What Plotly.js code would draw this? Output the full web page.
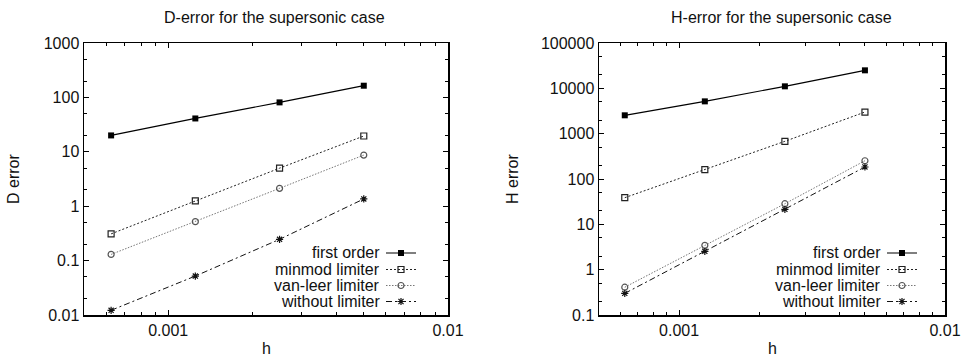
<!DOCTYPE html>
<html>
<head>
<meta charset="utf-8">
<script src="https://cdn.plot.ly/plotly-3.0.1.min.js"></script>
<style>
  html, body { margin: 0; padding: 0; background: #fff; }
  #chart { width: 965px; height: 360px; }
</style>
</head>
<body>
<div id="chart"></div>
<script>
// ---- data ----
const hVals = [0.000625, 0.00125, 0.0025, 0.005];
const seriesNames = ['first order', 'minmod limiter', 'van-leer limiter', 'without limiter'];

const dFirst   = [20, 41, 81, 164];
const dMinmod  = [0.31, 1.25, 5.0, 19.5];
const dVanleer = [0.13, 0.52, 2.13, 8.7];
const dWithout = [0.0122, 0.052, 0.246, 1.36];

const hFirst   = [2540, 5160, 11070, 24950];
const hMinmod  = [38.7, 161, 678, 3000];
const hVanleer = [0.41, 3.44, 28.5, 253];
const hWithout = [0.30, 2.54, 21.4, 184];

const panelTitles = ['D-error for the supersonic case', 'H-error for the supersonic case'];
const yTitles = ['D error', 'H error'];
const xTitle = 'h';

// ---- styles ----
const styles = [
  { line: { color: '#000', width: 1.2, dash: 'solid' }, marker: { symbol: 'square', size: 6, color: '#000' } },
  { line: { color: '#222', width: 1, dash: '2px,2px' }, marker: { symbol: 'square-open', size: 6, color: '#222', line: { width: 1.2 } } },
  { line: { color: '#777', width: 1, dash: '1.5px,1.5px' }, marker: { symbol: 'circle-open', size: 6, color: '#555', line: { width: 1.2 } } },
  { line: { color: '#111', width: 1, dash: '6px,3px,2px,3px' }, marker: { symbol: 'asterisk-open', size: 6, color: '#111', line: { width: 1.2 } } }
];

const dSeries = [dFirst, dMinmod, dVanleer, dWithout];
const hSeries = [hFirst, hMinmod, hVanleer, hWithout];

const W = 965, H = 360;
const FONT = 'Liberation Sans, Arial, Helvetica, sans-serif';

function legendId(k) { return k === 0 ? 'legend' : 'legend' + (k + 1); }

const traces = [];
dSeries.forEach((ys, i) => traces.push({
  x: hVals, y: ys, name: '', type: 'scatter', mode: 'lines+markers',
  xaxis: 'x', yaxis: 'y', legend: legendId(i),
  line: styles[i].line, marker: styles[i].marker
}));
hSeries.forEach((ys, i) => traces.push({
  x: hVals, y: ys, name: '', type: 'scatter', mode: 'lines+markers',
  xaxis: 'x2', yaxis: 'y2', legend: legendId(4 + i),
  line: styles[i].line, marker: styles[i].marker
}));

function xAxis(domain, anchor) {
  return {
    type: 'log', domain: domain, anchor: anchor,
    range: [Math.log10(0.0005), Math.log10(0.01)],
    dtick: 1, tickformat: '~r',
    ticks: 'inside', ticklen: 5, tickwidth: 1, tickcolor: '#000',
    showline: true, linecolor: '#000', linewidth: 1.5, mirror: 'allticks',
    showgrid: false, zeroline: false,
    tickfont: { family: FONT, size: 16, color: '#111' },
    minor: { ticks: 'inside', ticklen: 3, tickwidth: 1, tickcolor: '#000', dtick: 'D1', showgrid: false }
  };
}
function yAxis(domain, anchor, lo, hi) {
  return {
    type: 'log', domain: domain, anchor: anchor,
    range: [Math.log10(lo), Math.log10(hi)],
    dtick: 1, tickformat: '~r',
    ticks: 'inside', ticklen: 5, tickwidth: 1, tickcolor: '#000',
    showline: true, linecolor: '#000', linewidth: 1.5, mirror: 'allticks',
    showgrid: false, zeroline: false,
    tickfont: { family: FONT, size: 16, color: '#111' },
    minor: { ticks: 'inside', ticklen: 3, tickwidth: 1, tickcolor: '#000', dtick: 'D2', showgrid: false }
  };
}

const yDom = [1 - 315 / H, 1 - 43 / H];
const annFont = { family: FONT, size: 16, color: '#111' };

const annotations = [
  { text: panelTitles[0], x: 274 / W, y: 1 - 17 / H },
  { text: panelTitles[1], x: 781 / W, y: 1 - 17 / H },
  { text: xTitle, x: 266 / W, y: 0.003, yanchor: 'bottom' },
  { text: xTitle, x: 772 / W, y: 0.003, yanchor: 'bottom' },
  { text: yTitles[0], x: 13 / W, y: 1 - 179 / H, textangle: -90 },
  { text: yTitles[1], x: 512 / W, y: 1 - 179 / H, textangle: -90 }
].map(a => Object.assign({ xref: 'paper', yref: 'paper', showarrow: false, xanchor: 'center', yanchor: 'middle', font: annFont }, a));

const legendBase = {
  bgcolor: 'rgba(0,0,0,0)', borderwidth: 0, xanchor: 'left', yanchor: 'middle',
  font: { family: FONT, size: 12 }
};

const rowY = [253, 269.5, 285.5, 301.5];
const sampleLeft = [386, 887];

const layout = {
  width: W, height: H,
  margin: { l: 0, r: 0, t: 0, b: 0 },
  paper_bgcolor: '#fff', plot_bgcolor: '#fff',
  font: { family: FONT, size: 16, color: '#111' },
  showlegend: true,
  xaxis: xAxis([84 / W, 448 / W], 'y'),
  yaxis: yAxis(yDom, 'x', 0.01, 1000),
  xaxis2: xAxis([599 / W, 945 / W], 'y2'),
  yaxis2: yAxis(yDom, 'x2', 0.1, 100000),
  annotations: annotations
};
for (let p = 0; p < 2; p++) {
  for (let i = 0; i < 4; i++) {
    layout[legendId(p * 4 + i)] = Object.assign({ x: (sampleLeft[p] - 5) / W, y: 1 - rowY[i] / H }, legendBase);
  }
}

Plotly.newPlot('chart', traces, layout, { staticPlot: true, displayModeBar: false }).then(gd => {
  const root = gd.getBoundingClientRect();
  const extra = [];
  for (let k = 0; k < 8; k++) {
    const item = gd.querySelector('g.' + legendId(k) + ' g.traces');
    if (!item) continue;
    const path = item.querySelector('.legendlines path') || item.querySelector('.legendpoints path');
    if (!path) continue;
    const r = path.getBoundingClientRect();
    const left = r.left - root.left;
    const cy = r.top - root.top + r.height / 2;
    extra.push({
      text: seriesNames[k % 4], xref: 'paper', yref: 'paper', showarrow: false,
      x: (left - 4) / W, y: 1 - cy / H, xanchor: 'right', yanchor: 'middle', font: annFont
    });
  }
  return Plotly.relayout(gd, { annotations: annotations.concat(extra) });
});
</script>
</body>
</html>
